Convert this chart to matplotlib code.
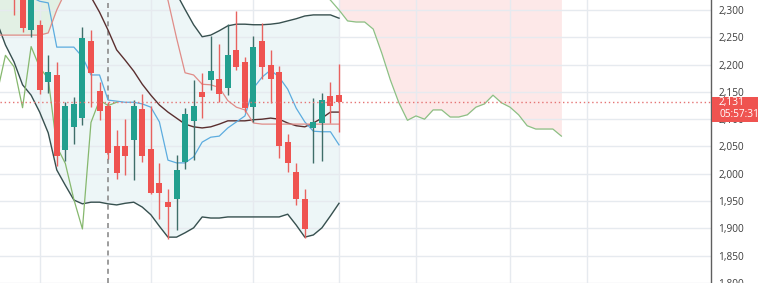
import matplotlib
matplotlib.use("Agg")
import matplotlib.pyplot as plt
import numpy as np
from matplotlib.patches import Rectangle
from matplotlib.ticker import FuncFormatter

# ---------------- data ----------------
opens  = [2345, 2335, 2264, 2272, 2168, 2181, 2044, 2086, 2102, 2243,
          2152, 2124, 2050, 2051, 2062, 2119, 2045, 1984, 1948, 1953,
          2022, 2097, 2149, 2171, 2173, 2158, 2227, 2204, 2122, 2244,
          2199, 2187, 2059, 2003, 1954, 2083, 2093, 2143, 2144]
highs  = [2350, 2345, 2340, 2282, 2217, 2205, 2131, 2141, 2268, 2263,
          2168, 2131, 2081, 2100, 2135, 2147, 2124, 2020, 1972, 2034,
          2121, 2171, 2184, 2252, 2238, 2274, 2298, 2213, 2252, 2277,
          2227, 2197, 2072, 2020, 1972, 2138, 2148, 2168, 2201]
lows   = [2291, 2260, 2250, 2146, 2148, 2014, 2023, 2054, 2089, 2122,
          2099, 2028, 1990, 1997, 1988, 2021, 1963, 1917, 1880, 1897,
          2009, 2026, 2103, 2153, 2132, 2144, 2190, 2113, 2095, 2173,
          2130, 2029, 2003, 1942, 1882, 2019, 2024, 2093, 2076]
closes = [2325, 2267, 2330, 2154, 2187, 2032, 2124, 2128, 2249, 2185,
          2115, 2038, 2002, 2032, 2124, 2033, 1964, 1964, 1939, 2007,
          2110, 2125, 2141, 2188, 2146, 2217, 2196, 2121, 2233, 2195,
          2174, 2050, 2019, 1953, 1899, 2094, 2135, 2125, 2131]

# Bollinger bands, bar index -2 .. 38
bb_start = -2
bb_upper = [2400, 2400, 2400, 2400, 2400, 2400, 2400, 2400, 2400, 2400,
            2400, 2400, 2400, 2400, 2400, 2400, 2400, 2400, 2390, 2370,
            2350, 2330, 2301, 2273, 2251, 2254, 2262, 2271, 2274, 2274,
            2273, 2273, 2274, 2276, 2280, 2284, 2289, 2291, 2291, 2291, 2285]
bb_basis = [2420, 2415, 2410, 2400, 2390, 2380, 2370, 2360, 2350, 2340,
            2332, 2324, 2296, 2263, 2227, 2208, 2188, 2164, 2144, 2126,
            2113, 2102, 2091, 2086, 2084, 2086, 2091, 2097, 2097, 2097,
            2099, 2100, 2102, 2100, 2093, 2088, 2086, 2093, 2102, 2113, 2113]
bb_lower = [2278, 2236, 2205, 2163, 2144, 2113, 2075, 2007, 1979, 1952,
            1945, 1948, 1948, 1945, 1943, 1946, 1948, 1939, 1925, 1904,
            1884, 1884, 1892, 1901, 1921, 1919, 1919, 1921, 1921, 1921,
            1921, 1921, 1921, 1921, 1926, 1906, 1884, 1888, 1901, 1923, 1946]

# Ichimoku, bar index -2 .. 38
ichi_start = -2
tenkan = [2345, 2340, 2335, 2330, 2324, 2316, 2313, 2232, 2232, 2232,
          2214, 2181, 2181, 2135, 2133, 2131, 2131, 2128, 2122, 2095,
          2025, 2020, 2020, 2031, 2058, 2067, 2069, 2084, 2095, 2106,
          2157, 2177, 2190, 2177, 2155, 2120, 2095, 2078, 2077, 2077, 2053]
kijun  = [2254, 2254, 2254, 2254, 2254, 2254, 2258, 2300, 2333, 2345,
          2345, 2345, 2345, 2345, 2345, 2345, 2345, 2345, 2345, 2345,
          2318, 2249, 2185, 2181, 2164, 2163, 2158, 2134, 2122, 2117,
          2093, 2091, 2091, 2091, 2091, 2091, 2091, 2091, 2091, 2091, 2091]
# leading span A (shifted forward), bar index 36 .. 64
span_a_start = 36
span_a = [2333, 2318, 2300, 2280, 2278, 2278, 2265, 2221, 2172, 2130,
          2098, 2106, 2100, 2117, 2117, 2104, 2104, 2108, 2122, 2128,
          2144, 2130, 2122, 2108, 2088, 2082, 2082, 2082, 2069]
span_b_level = 2400          # leading span B stays above the visible range
lag_shift = 26               # lagging span offset (bars)
green_cloud_end = 6          # left green cloud visible up to this bar

yticks = [1800, 1850, 1900, 1950, 2000, 2050, 2100, 2150, 2200, 2250, 2300]
xgrid_bars = [3, 16, 28, 38, 47, 58, 67]
session_bar = 11
countdown = "05:57:31"

# ---------------- figure ----------------
W, H, DPI = 758, 283, 100
plt.rcParams['font.family'] = ['Open Sans', 'DejaVu Sans']
fig = plt.figure(figsize=(W / DPI, H / DPI), dpi=DPI)
fig.patch.set_facecolor('white')
ax = fig.add_axes([0, 0, 711 / W, 1])
ax.set_facecolor('white')

idx = np.arange(len(opens))
o = np.array(opens, float); c = np.array(closes, float)
hi = np.array(highs, float); lo = np.array(lows, float)

bb_x = np.arange(bb_start, bb_start + len(bb_lower))
ich_x = np.arange(ichi_start, ichi_start + len(kijun))
sa_x = np.arange(span_a_start, span_a_start + len(span_a))
sa = np.array(span_a, float)

# fills
ax.fill_between(bb_x, bb_lower, bb_upper, color='#edf6f7', lw=0, zorder=0.2)
m = ich_x <= green_cloud_end
ax.fill_between(ich_x[m], np.array(kijun)[m], span_b_level,
                color='#e2f0e4', lw=0, zorder=0.3)
m2 = sa_x >= idx[-1]
ax.fill_between(sa_x[m2], sa[m2], span_b_level, color='#fde8e8', lw=0, zorder=0.3)

# grid
ax.set_axisbelow(True)
ax.set_yticks(yticks)
ax.set_xticks(xgrid_bars)
ax.grid(True, color='#e6eaef', lw=1.0, zorder=0.5)
for t in ax.get_xgridlines() + ax.get_ygridlines():
    t.set_zorder(0.5)

# session dashed line
ax.axvline(session_bar, color='#8c8c8c', lw=1.2, ls=(0, (3, 2.5)), zorder=1)

# indicator lines
ax.plot(bb_x, bb_upper, color='#37504f', lw=1.0, zorder=2)
ax.plot(bb_x, bb_lower, color='#37504f', lw=1.0, zorder=2)
ax.plot(bb_x, bb_basis, color='#5a2f2f', lw=1.0, zorder=2)
ax.plot(ich_x, tenkan, color='#5cacdf', lw=0.9, zorder=2)
ax.plot(ich_x, kijun, color='#e08c88', lw=0.9, zorder=2)
ax.plot(sa_x, sa, color='#8cc084', lw=0.9, zorder=2)
ax.plot(idx[lag_shift - 2:] - lag_shift, c[lag_shift - 2:], color='#86b86e', lw=0.9, zorder=2)

# candles
up = c >= o
body_col = np.where(up, '#22a08f', '#ef5350')
wick_col = np.where(up, '#3f6e69', '#e8625f')
ax.vlines(idx, lo, hi, colors=wick_col, lw=1.0, zorder=2.8)
ax.bar(idx, np.maximum(np.abs(c - o), 1.5), bottom=np.minimum(o, c),
       width=0.70, color=body_col, lw=0, zorder=3)

# current price line
last = closes[-1]
ax.axhline(last, color='#e57373', lw=1.0, ls=(0, (1, 2)), zorder=4)

# axes styling
ax.set_xlim(-14 / 8.553, 697 / 8.553)
ax.set_ylim(1800, 2318.3)
for s in ['left', 'top', 'bottom']:
    ax.spines[s].set_visible(False)
ax.spines['right'].set_color('#5f5f5f')
ax.spines['right'].set_linewidth(1.0)
ax.yaxis.tick_right()
ax.yaxis.set_major_formatter(FuncFormatter(lambda v, p: f"{v:,.0f}"))
ax.tick_params(axis='y', length=0, pad=5.2, labelsize=7.3, labelcolor='#3d3d3d')
ax.tick_params(axis='x', bottom=False, labelbottom=False)

# price label box
fig.canvas.draw()
ypx = ax.transData.transform((0, last))[1]
box = Rectangle((712, ypx - 20), W - 712, 25, transform=None,
                facecolor='#ef5350', edgecolor='none', zorder=5)
fig.add_artist(box)
fig.text(719 / W, (ypx - 0.5) / H, f"{last:,.0f}", color='white', fontsize=7.3,
         va='center', ha='left', zorder=6)
fig.text(719 / W, (ypx - 12.5) / H, countdown, color='white', fontsize=7.3,
         va='center', ha='left', zorder=6)

fig.savefig('out.png', dpi=DPI)
